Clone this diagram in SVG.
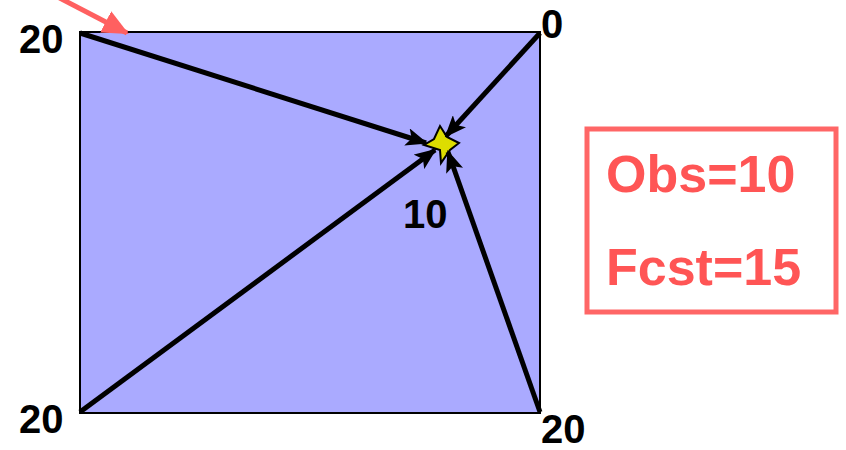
<svg xmlns="http://www.w3.org/2000/svg" width="846" height="450" viewBox="0 0 846 450">
<style>
.lbl{font-family:"Liberation Sans",Arial,sans-serif;font-weight:bold;font-size:40px;fill:#000}
.red{font-family:"Liberation Sans",Arial,sans-serif;font-weight:bold;font-size:52px;fill:#FF5555}
.conn{stroke:#000;stroke-width:5;fill:none;marker-end:url(#ah)}
</style>
<defs>
<marker id="ah" markerUnits="userSpaceOnUse" markerWidth="22" markerHeight="18" refX="20" refY="9" orient="auto" viewBox="0 0 22 18">
<path d="M0,0 L22,9 L0,18 L5,9 Z" fill="#000"/>
</marker>
<marker id="rah" markerUnits="userSpaceOnUse" markerWidth="26" markerHeight="24" refX="24" refY="12" orient="auto" viewBox="0 0 26 24">
<path d="M0,0 L26,12 L0,24 Z" fill="#FF6060"/>
</marker>
</defs>
<g id="field">
<rect x="80" y="32" width="460" height="381" fill="#AAAAFF" stroke="#000" stroke-width="2"/>
</g>
<g id="target">
<polygon points="440,126 447,137 459,143 450,150 441,163 440,150 424,145 434,139" fill="#DDDD00" stroke="#000" stroke-width="2"/>
</g>
<g id="connectors">
<line class="conn" x1="80" y1="33" x2="426" y2="143"/>
<line class="conn" x1="540" y1="33" x2="446" y2="136"/>
<line class="conn" x1="80" y1="412" x2="435" y2="150"/>
<line class="conn" x1="540" y1="412" x2="448" y2="152"/>
<line x1="50" y1="-7" x2="127" y2="33" stroke="#FF6060" stroke-width="5" marker-end="url(#rah)"/>
</g>
<g id="labels">
<text class="lbl" x="19" y="53">20</text>
<text class="lbl" x="541" y="38">0</text>
<text class="lbl" x="403" y="228">10</text>
<text class="lbl" x="19" y="433">20</text>
<text class="lbl" x="541" y="443">20</text>
</g>
<g id="legend">
<rect x="587" y="129" width="249" height="183" fill="#fff" stroke="#FF6666" stroke-width="5"/>
<text class="red" x="606" y="192">Obs=10</text>
<text class="red" x="606" y="285">Fcst=15</text>
</g>
</svg>
